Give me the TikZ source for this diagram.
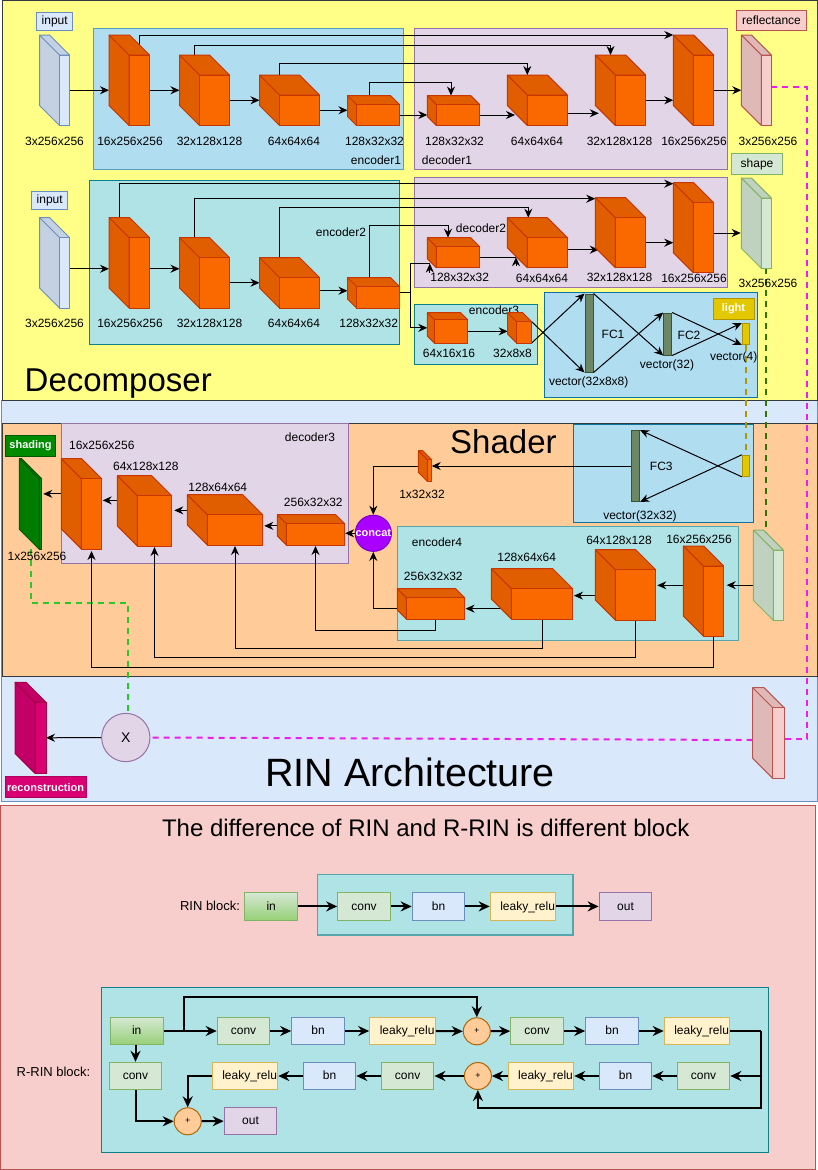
\documentclass[tikz,border=0pt]{standalone}
\usepackage{fontspec}
\setmainfont{Liberation Sans}
\usepackage{xcolor}
\usetikzlibrary{arrows.meta,calc}
\definecolor{yellowpanel}{RGB}{255,255,136}
\definecolor{panelline}{RGB}{54,57,61}
\definecolor{bluefill}{RGB}{218,232,252}
\definecolor{blueline}{RGB}{108,142,191}
\definecolor{peachfill}{RGB}{255,204,153}
\definecolor{pinkfill}{RGB}{248,206,204}
\definecolor{pinkline}{RGB}{184,84,80}
\definecolor{skyfill}{RGB}{177,221,240}
\definecolor{skyline}{RGB}{16,115,158}
\definecolor{tealfill}{RGB}{176,227,230}
\definecolor{tealline}{RGB}{14,128,136}
\definecolor{mauvefill}{RGB}{225,213,231}
\definecolor{mauveline}{RGB}{150,115,166}
\definecolor{greenfill}{RGB}{213,232,212}
\definecolor{greenline}{RGB}{130,179,102}
\definecolor{greendeep}{RGB}{151,208,119}
\definecolor{creamfill}{RGB}{255,242,204}
\definecolor{creamline}{RGB}{214,182,86}
\definecolor{orangefill}{RGB}{250,104,0}
\definecolor{orangeline}{RGB}{199,53,0}
\definecolor{olivefill}{RGB}{109,135,100}
\definecolor{oliveline}{RGB}{58,84,49}
\definecolor{goldfill}{RGB}{227,200,0}
\definecolor{goldline}{RGB}{176,149,0}
\definecolor{shadefill}{RGB}{0,138,0}
\definecolor{shadeline}{RGB}{0,87,0}
\definecolor{violetfill}{RGB}{170,0,255}
\definecolor{violetline}{RGB}{119,0,204}
\definecolor{rosefill}{RGB}{216,0,115}
\definecolor{roseline}{RGB}{165,0,64}
\definecolor{plusline}{RGB}{180,101,4}
\definecolor{magentalink}{RGB}{236,30,236}
\definecolor{limelink}{RGB}{40,200,40}
\definecolor{forestlink}{RGB}{45,118,0}
\newcommand{\sizedfont}[1]{\fontsize{#1}{#1}\selectfont}
\newcommand{\lrtext}{\makebox[64pt][r]{leaky\_relu}}
\pgfdeclarelayer{cubes}
\pgfsetlayers{main,cubes}
\tikzset{
    dim/.style={inner sep=0pt, font=\sizedfont{12}},
    blocklabel/.style={inner sep=0pt, font=\sizedfont{13}},
    tag/.style={draw, line width=1pt, inner sep=0pt, font=\sizedfont{12}},
    whitetag/.style={tag, text=white, font=\sizedfont{11}\bfseries},
    title/.style={inner sep=0pt, anchor=base west},
    bar/.style={draw=oliveline, fill=olivefill, line width=1pt, inner sep=0pt, minimum width=8pt},
    goldbar/.style={draw=goldline, fill=goldfill, line width=1pt, inner sep=0pt, minimum width=7.4pt, minimum height=21pt},
    link/.style={draw=black, line width=1pt, ->},
    plainlink/.style={draw=black, line width=1pt},
    fat/.style={draw=black, line width=2pt, ->, >={Stealth[length=11pt, width=10pt]}},
    fatplain/.style={draw=black, line width=2pt},
    dashlink/.style={line width=2pt, dash pattern=on 6pt off 5pt},
    block/.style={draw, line width=1pt, inner sep=0pt, text height=8.6pt, text depth=1pt, minimum width=52.6pt, minimum height=27.4pt, font=\sizedfont{12}},
    convbox/.style={block, fill=greenfill, draw=greenline},
    bnbox/.style={block, fill=bluefill, draw=blueline},
    leakybox/.style={block, fill=creamfill, draw=creamline, minimum width=65.6pt},
    outbox/.style={block, fill=mauvefill, draw=mauveline},
    inbox/.style={block, top color=greenfill, bottom color=greendeep, draw=greenline},
    plusbox/.style={circle, draw=plusline, fill=peachfill, line width=1pt, inner sep=0pt, minimum size=27pt, font=\sizedfont{9}}
}
% name, left, top, right, bottom, depth, fill, line
\newcommand{\cuboid}[8]{%
    \node[inner sep=0pt, outer sep=0pt, minimum width={(#4-#2)*1pt}, minimum height={(#5-#3)*1pt}] (#1) at ({(#2+#4)/2},{(#3+#5)/2}) {};
    \coordinate (#1t) at ({(#2+#4-#6)/2},#3);
    \begin{pgfonlayer}{cubes}
    \filldraw[fill=#7!90!black, draw=#8, line width=1pt, line join=round] (#2,#3) -- ({#4-#6},#3) -- (#4,{#3+#6}) -- ({#2+#6},{#3+#6}) -- ({#2+#6},#5) -- (#2,{#5-#6}) -- cycle;
    \draw[draw=#8, line width=1pt] (#2,#3) -- ({#2+#6},{#3+#6});
    \node[fill=#7, draw=#8, line width=1pt, inner sep=0pt, outer sep=0pt, minimum width={(#4-#2-#6)*1pt}, minimum height={(#5-#3-#6)*1pt}] (#1f) at ({(#2+#6+#4)/2},{(#3+#6+#5)/2}) {};
    \end{pgfonlayer}%
}

\begin{document}
\begin{tikzpicture}[x=1pt, y=-1pt,
    >={Stealth[length=9pt, width=8pt]}
]
\useasboundingbox (0,0) rectangle (818,1170);

% Outer Panels
\draw[fill=bluefill, draw=blueline, line width=1pt] (1.5,400) rectangle (817.5,801);
\draw[fill=yellowpanel, draw=panelline, line width=1pt] (2.3,0.5) rectangle (817.5,400.5);
\draw[fill=peachfill, draw=panelline, line width=1pt] (2.3,423.5) rectangle (817.5,676.7);
\draw[fill=pinkfill, draw=pinkline, line width=1pt] (0.5,805.7) rectangle (815,1169);

% Inner Boxes
\draw[fill=skyfill, draw=skyline!70, line width=1pt] (93.5,28.5) rectangle (403.5,169);
\draw[fill=mauvefill, draw=mauveline, line width=1pt] (414.5,28.5) rectangle (727.5,169);
\draw[fill=tealfill, draw=tealline, line width=1pt] (89.5,180.5) rectangle (399.5,344.5);
\draw[fill=mauvefill, draw=mauveline, line width=1pt] (414.5,177) rectangle (727.5,287);
\draw[fill=tealfill, draw=tealline, line width=1pt] (414.5,304) rectangle (537.5,364);
\draw[fill=skyfill, draw=skyline, line width=1pt] (544.5,292) rectangle (757.5,397);
\draw[fill=mauvefill, draw=mauveline, line width=1pt] (61.3,423.5) rectangle (348.7,563.3);
\draw[fill=skyfill, draw=skyline, line width=1pt] (573.7,424) rectangle (753.3,522.7);
\draw[fill=tealfill, draw=tealline!70, line width=1pt] (397.3,526) rectangle (738.7,640);
\draw[fill=tealfill, draw=tealline!70, line width=1.5pt] (317.7,874.7) rectangle (573,935);
\draw[fill=tealfill, draw=tealline, line width=1pt] (101.3,987.3) rectangle (768.5,1152.7);

% Top Row Cuboids
\cuboid{inra}{39.5}{35}{69.5}{125.5}{20}{bluefill}{blueline}
\cuboid{ena}{109}{35}{149.5}{125.5}{20}{orangefill}{orangeline}
\cuboid{enb}{179.5}{55}{229.5}{125.5}{20}{orangefill}{orangeline}
\cuboid{enc}{259.5}{75}{319.5}{125.5}{20}{orangefill}{orangeline}
\cuboid{end}{347.5}{95.5}{399.5}{125.5}{9}{orangefill}{orangeline}
\cuboid{dea}{427.3}{95.5}{479.7}{125.5}{9}{orangefill}{orangeline}
\cuboid{deb}{507.3}{75}{567.3}{125.5}{20}{orangefill}{orangeline}
\cuboid{dec}{595.3}{55}{645.7}{125.5}{20}{orangefill}{orangeline}
\cuboid{ded}{673.3}{35}{713.7}{125.5}{20}{orangefill}{orangeline}
\cuboid{reflect}{741.3}{35}{771.3}{125.5}{20}{pinkfill}{pinkline}

% Second Row Cuboids
\cuboid{inrb}{39.5}{217.5}{69.5}{308}{20}{bluefill}{blueline}
\cuboid{ema}{109}{217.5}{149.5}{308}{20}{orangefill}{orangeline}
\cuboid{emb}{179.5}{237.5}{229.5}{308}{20}{orangefill}{orangeline}
\cuboid{emc}{259.5}{257.5}{319.5}{308}{20}{orangefill}{orangeline}
\cuboid{emd}{347.5}{277.5}{399.5}{308}{9}{orangefill}{orangeline}
\cuboid{dfa}{427.3}{237.7}{479.7}{267.7}{9}{orangefill}{orangeline}
\cuboid{dfb}{507.3}{217.7}{567.3}{267.7}{20}{orangefill}{orangeline}
\cuboid{dfc}{595.3}{197.7}{645.7}{267.7}{20}{orangefill}{orangeline}
\cuboid{dfd}{673.3}{182.7}{713.7}{272.7}{20}{orangefill}{orangeline}
\cuboid{shape}{741.3}{178}{771.3}{268.3}{20}{greenfill}{greenline}
\cuboid{eoa}{427.3}{312.7}{467.7}{343}{7}{orangefill}{orangeline}
\cuboid{eob}{507.7}{312.7}{531.7}{343}{9}{orangefill}{orangeline}

% Shader Cuboids
\cuboid{shade}{19.3}{458.7}{41.7}{549.3}{20}{shadefill}{shadeline}
\cuboid{dga}{61.3}{458.7}{101.7}{549}{20}{orangefill}{orangeline}
\cuboid{dgb}{117.3}{475.7}{171.7}{546}{20}{orangefill}{orangeline}
\cuboid{dgc}{187.3}{494.7}{262.7}{545}{20}{orangefill}{orangeline}
\cuboid{dgd}{277.3}{514.7}{344.7}{545}{9}{orangefill}{orangeline}
\cuboid{lightmap}{418.3}{450.7}{431.7}{481.3}{9}{orangefill}{orangeline}
\cuboid{eha}{683.3}{546}{723.7}{636}{20}{orangefill}{orangeline}
\cuboid{ehb}{595.3}{549.7}{655.7}{620}{20}{orangefill}{orangeline}
\cuboid{ehc}{491.3}{568.7}{572.7}{619}{20}{orangefill}{orangeline}
\cuboid{ehd}{397.3}{588.7}{464.7}{619}{9}{orangefill}{orangeline}
\cuboid{shapein}{753.3}{530}{783.3}{620.3}{20}{greenfill}{greenline}

% Bottom Cuboids
\cuboid{recon}{15}{682.3}{46}{773.3}{20}{rosefill}{roseline}
\cuboid{reflin}{752.7}{687.7}{784}{778.3}{20}{pinkfill}{pinkline}

% Vectors
\node[bar, minimum height=78pt] (fca) at (589,333) {};
\node[bar, minimum height=42pt] (fcb) at (667.7,334) {};
\node[goldbar] (lighta) at (746,334) {};
\node[bar, minimum height=70.6pt] (fcc) at (635.7,466) {};
\node[goldbar] (lightb) at (746,465.8) {};

% Circles
\node[circle, draw=violetline, fill=violetfill, line width=1pt, inner sep=0pt, minimum size=34pt, text=white, font=\sizedfont{11}\bfseries] (concat) at (373.3,533.3) {concat};
\node[circle, draw=mauveline, fill=mauvefill, line width=1pt, inner sep=0pt, minimum size=48.3pt, font=\sizedfont{14}] (times) at (125.8,737.5) {X};

% Titles
\node[title, font=\sizedfont{33}] (decomposer) at (24.5,391.7) {Decomposer};
\node[title, font=\sizedfont{33}] (shader) at (450,453) {Shader};
\node[title, font=\sizedfont{39.5}] (rinarch) at (265,786.7) {RIN Architecture};
\node[title, font=\sizedfont{24}] (difftitle) at (161.8,836.7) {The difference of RIN and R-RIN is different block};

% Tags
\node[tag, fill=bluefill, draw=blueline, minimum width=36pt, minimum height=18pt] (inputa) at (54.7,21.7) {input};
\node[tag, fill=bluefill, draw=blueline, minimum width=36pt, minimum height=18.4pt] (inputb) at (49.7,200.5) {input};
\node[tag, fill=pinkfill, draw=pinkline, minimum width=70.4pt, minimum height=20.4pt] (reflecttag) at (771.5,20.5) {reflectance};
\node[tag, fill=greenfill, draw=greenline, line width=1.5pt, minimum width=50.6pt, minimum height=20.6pt] (shapetag) at (757,164) {shape};
\node[whitetag, fill=goldfill, draw=goldline, minimum width=41pt, minimum height=21pt] (lighttag) at (733.5,308.5) {light};
\node[whitetag, fill=shadefill, draw=shadeline, minimum width=50.4pt, minimum height=20.7pt] (shadetag) at (30.5,445.7) {shading};
\node[whitetag, fill=rosefill, draw=rosefill!80!black, minimum width=81pt, minimum height=21pt] (recontag) at (45.6,787.2) {reconstruction};

% Dashed Links
\draw[dashlink, magentalink] ([yshift=3pt]reflectf.east) -- ++(36,0) |- ([yshift=4pt]reflinf.east);
\draw[dashlink, magentalink] (reflin.west) ++(0,7) -- (times.east);
\draw[dashlink, limelink] (shade.south) -- ++(0,54) -| ([xshift=2.5pt]times.north);
\draw[dashlink, forestlink] (shapef.south) -- ++(0,265);
\draw[dashlink, goldline] (lighta.south) -- (lightb.north);

% Top Row Labels
\node[dim] (la1) at (54.5,141) {3x256x256};
\node[dim] (la2) at (130,141) {16x256x256};
\node[dim] (la3) at (209.5,141) {32x128x128};
\node[dim] (la4) at (294,141) {64x64x64};
\node[dim] (la5) at (374.5,141) {128x32x32};
\node[dim] (la6) at (454.5,141) {128x32x32};
\node[dim] (la7) at (537,141) {64x64x64};
\node[dim] (la8) at (619.5,141) {32x128x128};
\node[dim] (la9) at (694,141) {16x256x256};
\node[dim] (la10) at (768,141) {3x256x256};
\node[dim] (enclabela) at (376,160) {encoder1};
\node[dim] (declabela) at (447,160) {decoder1};

% Second Row Labels
\node[dim] (lb1) at (54.5,323.7) {3x256x256};
\node[dim] (lb2) at (130,323.7) {16x256x256};
\node[dim] (lb3) at (209.5,323.7) {32x128x128};
\node[dim] (lb4) at (294,323.7) {64x64x64};
\node[dim] (lb5) at (368.7,323.7) {128x32x32};
\node[dim] (lb6) at (459.7,277.7) {128x32x32};
\node[dim] (lb7) at (542,278.7) {64x64x64};
\node[dim] (lb8) at (619.5,277.3) {32x128x128};
\node[dim] (lb9) at (694,278.7) {16x256x256};
\node[dim] (lb10) at (768,283.7) {3x256x256};
\node[dim] (enclabelb) at (341,232.7) {encoder2};
\node[dim] (declabelb) at (481,228.7) {decoder2};
\node[dim] (enclabelc) at (494,310) {encoder3};
\node[dim] (lc1) at (449,353.7) {64x16x16};
\node[dim] (lc2) at (512.5,353.7) {32x8x8};
\node[dim] (vecb) at (588.7,382.7) {vector(32x8x8)};
\node[dim] (fconelabel) at (613,334.7) {FC1};
\node[dim] (fctwolabel) at (689,335.7) {FC2};
\node[dim] (vecc) at (667,365.7) {vector(32)};
\node[dim] (vecd) at (733.7,357.7) {vector(4)};

% Shader Labels
\node[dim] (ld1) at (37,556.7) {1x256x256};
\node[dim] (ld2) at (101.8,445.7) {16x256x256};
\node[dim] (ld3) at (145.8,466.7) {64x128x128};
\node[dim] (ld4) at (217.8,487) {128x64x64};
\node[dim] (ld5) at (313.3,502) {256x32x32};
\node[dim] (declabelc) at (310,437.7) {decoder3};
\node[dim] (ld6) at (422,494.7) {1x32x32};
\node[dim] (fcthreelabel) at (661.3,466.7) {FC3};
\node[dim] (vece) at (640,516) {vector(32x32)};
\node[dim] (enclabeld) at (437,542) {encoder4};
\node[dim] (le1) at (433.3,576.7) {256x32x32};
\node[dim] (le2) at (526.7,557) {128x64x64};
\node[dim] (le3) at (619,540.7) {64x128x128};
\node[dim] (le4) at (699,539.7) {16x256x256};

% Top Row Links
\draw[link] (inraf.east) -- (inraf.east -| ena.west);
\draw[link] (enaf.east) -- (enaf.east -| enb.west);
\draw[link] (enbf.east) -- (enbf.east -| enc.west);
\draw[link] (encf.east) -- (encf.east -| end.west);
\draw[link] (endf.east) -- (endf.east -| dea.west);
\draw[link] (deaf.east) -- ++(35.3,0);
\draw[link] ([yshift=-3pt]debf.east) -- ++(31.5,0);
\draw[link] (decf.east) -- (decf.east -| ded.west);
\draw[link] (dedf.east) -- (dedf.east -| reflect.west);

% Top Row Skips
\draw[link] (enaf.north) |- (ded.north west);
\draw[link] (enbt) -- ++(0,-9.7) -| (dect);
\draw[link] (enct) -- ++(0,-11.3) -| (debt);
\draw[link] (endt) -- ++(0,-13.5) -| ([xshift=2pt]deat);

% Second Row Links
\draw[link] ([yshift=4pt]inrbf.east) -- ++(39.5,0);
\draw[link] ([yshift=4pt]emaf.east) -- ++(30,0);
\draw[link] (embf.east) -- (embf.east -| emc.west);
\draw[link] ([yshift=2pt]emcf.east) -- ++(28,0);
\draw[plainlink] (emd.east) -- ++(10.5,0) coordinate (fork);
\draw[plainlink] (fork) -- ++(0,-28.8) -- ++(19.5,0);
\draw[link] (fork) |- (eoa.west);
\draw[link] ([xshift=19.8pt,yshift=20.2pt]fork) -- ++(0,-9);
\draw[plainlink] (dfaf.east) -- ++(36.3,0);
\draw[link] ([xshift=36.3pt,yshift=-9pt]dfaf.east) -- ++(0,-9);
\draw[link] ([yshift=3pt]dfbf.east) -- ++(31.5,0);
\draw[link] (dfcf.east) -- (dfcf.east -| dfd.west);
\draw[link] ([yshift=4.7pt]dfdf.east) -- ++(27,0);
\draw[link] (eoaf.east) -- (eoaf.east -| eob.west);

% Second Row Skips
\draw[link] (emat) |- ([yshift=-1pt]dfd.north west);
\draw[link] (embt) |- ([yshift=-1pt]dfc.north west);
\draw[link] (emct) -- ++(0,-50.2) -| ([xshift=1pt]dfbt);
\draw[link] (emdt) -- ++(0,-52.5) -| ([xshift=-1pt]dfat);

% Light Vector Links
\draw[link] (eobf.north east) -- (fca.south west);
\draw[link] (eobf.south east) -- (fca.north west);
\draw[link] (fca.north east) -- (fcb.south west);
\draw[link] (fca.south east) -- (fcb.north west);
\draw[link] (fcb.north east) -- (lighta.south west);
\draw[link] (fcb.south east) -- (lighta.north west);

% Shader Links
\draw[link] (lightb.north west) -- (fcc.south east);
\draw[link] (lightb.south west) -- (fcc.north east);
\draw[link] (fcc.west) -- (fcc.west -| lightmap.east);
\draw[link] (lightmap.west) -| (concat.north);
\draw[link] (shapeinf.west -| shapein.west) -- ++(-26.6,0);
\draw[link] ([yshift=5.7pt]eha.west) -- ++(-26,0);
\draw[link] ([yshift=-10.8pt]ehb.west) -- ++(-21.3,0);
\draw[link] ([xshift=10pt,yshift=-14.8pt]ehc.west) -- ++(-35.7,0);
\draw[link] ([yshift=-5pt]ehd.west) -| (concat.south);
\draw[link] (concat.west) -- ++(-9.6,0);
\draw[link] ([yshift=4pt]dgd.west) -- ++(-13,0);
\draw[link] ([yshift=9.5pt]dgc.west) -- ++(-13,0);
\draw[link] ([yshift=10.5pt]dgb.west) -- ++(-14.6,0);
\draw[link] ([yshift=10pt]dga.west) -- ++(-18,0);
\draw[link] (ehdf.south) -- ++(0,11.3) -| ([yshift=-1pt]dgdf.south);
\draw[link] (ehcf.south) -- ++(0,29.7) -| ([yshift=-1pt]dgcf.south);
\draw[link] (ehbf.south) -- ++(0,37) -| ([yshift=-1pt]dgbf.south);
\draw[link] (ehaf.south) -- ++(0,31) -| ([yshift=-2pt]dgaf.south);
\draw[link] (times.west) -- (reconf.east);

% RIN Block
\node[blocklabel] (rinlabel) at (210,905.7) {RIN block:};
\node[inbox] (rin) at (271.2,906.4) {in};
\node[convbox] (rconv) at (364,906.4) {conv};
\node[bnbox] (rbn) at (438.5,906.4) {bn};
\node[leakybox] (rleaky) at (523,906.4) {\lrtext};
\node[outbox] (rout) at (625.5,906.4) {out};
\draw[fat] (rin) -- (rconv);
\draw[fat] (rconv) -- (rbn);
\draw[fat] (rbn) -- (rleaky);
\draw[fat] (rleaky) -- (rout);

% R-RIN Block
\node[blocklabel] (rrinlabel) at (53.5,1072.3) {R-RIN block:};
\node[inbox] (rrin) at (136.7,1031) {in};
\node[convbox] (conva) at (243.5,1031) {conv};
\node[bnbox] (bna) at (318,1031) {bn};
\node[leakybox] (leakya) at (402.5,1031) {\lrtext};
\node[plusbox] (plusa) at (476.8,1031.3) {+};
\node[convbox] (convb) at (537,1031) {conv};
\node[bnbox] (bnb) at (612,1031) {bn};
\node[leakybox] (leakyb) at (697,1031) {\lrtext};
\node[convbox] (convc) at (703.5,1076) {conv};
\node[bnbox] (bnc) at (625.5,1076) {bn};
\node[leakybox] (leakyc) at (540.9,1076) {\lrtext};
\node[plusbox] (plusb) at (477.9,1076) {+};
\node[convbox] (convd) at (407.6,1076) {conv};
\node[bnbox] (bnd) at (329.5,1076) {bn};
\node[leakybox] (leakyd) at (245,1076) {\lrtext};
\node[convbox] (conve) at (135.5,1076) {conv};
\node[plusbox] (plusc) at (187.7,1121.3) {+};
\node[outbox] (outb) at (250.5,1121) {out};

% R-RIN Links
\draw[fat] (rrin) -- (conva);
\draw[fat] (conva) -- (bna);
\draw[fat] (bna) -- (leakya);
\draw[fat] (leakya) -- (plusa);
\draw[fat] (plusa) -- (convb);
\draw[fat] (convb) -- (bnb);
\draw[fat] (bnb) -- (leakyb);
\draw[fat] ([xshift=20pt]rrin.east) -- ++(0,-33.7) -| (plusa.north);
\draw[fat] (rrin.south -| conve.north) -- (conve.north);
\draw[fat] (conve.south) |- (plusc.west);
\draw[fat] (leakyd.west) -| (plusc.north);
\draw[fat] (plusc) -- (outb);
\draw[fat] (convc) -- (bnc);
\draw[fat] (bnc) -- (leakyc);
\draw[fat] (leakyc) -- (plusb);
\draw[fat] (plusb) -- (convd);
\draw[fat] (convd) -- (bnd);
\draw[fat] (bnd) -- (leakyd);
\draw[fatplain] (leakyb.east) -- ++(30.8,0) coordinate (loop);
\draw[fat] (loop) |- (convc.east);
\draw[fat] (loop) -- ++(0,77.3) -| (plusb.south);

\end{tikzpicture}
\end{document}
